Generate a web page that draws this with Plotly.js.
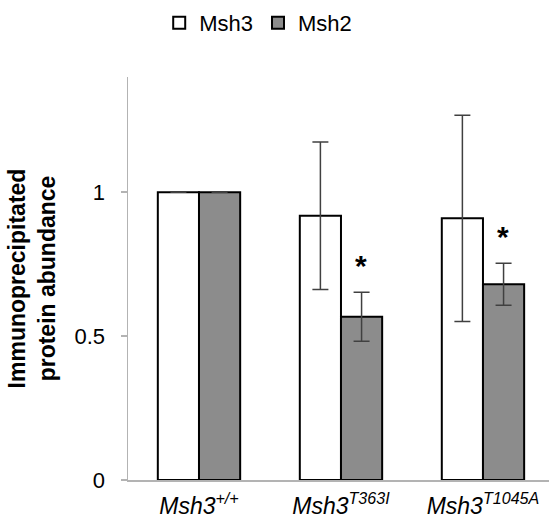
<!DOCTYPE html>
<html>
<head>
<meta charset="utf-8">
<script src="https://cdn.plot.ly/plotly-3.0.1.min.js"></script>
<style>html,body{margin:0;padding:0;background:#fff}#chart{width:549px;height:524px}</style>
</head>
<body>
<div id="chart"></div>
<script>
// ---- data ----
const genotypes = ['+/+', 'T363I', 'T1045A'];
const tickLabels = ['<i>Msh3<sup>+/+</sup></i>', '<i>Msh3<sup>T363I</sup></i>', '<i>Msh3<sup>T1045A</sup></i>'];
const msh3 = [1.0, 0.918, 0.909];
const msh3Err = [null, 0.256, 0.358];
const msh2 = [1.0, 0.567, 0.680];
const msh2Err = [null, 0.085, 0.073];
const significance = ['', '*', '*'];
const yTicks = [0, 0.5, 1];
const yTickText = ['0', '0.5', '1'];

const FONT = 'Liberation Sans, Arial, sans-serif';
const errStyle = {type: 'data', visible: true, color: '#404040', thickness: 1.5, width: 8};

const traces = [
  {
    type: 'bar', name: 'Msh3', x: genotypes, y: msh3,
    marker: {color: '#ffffff', line: {color: '#000000', width: 2}},
    error_y: Object.assign({array: msh3Err}, errStyle)
  },
  {
    type: 'bar', name: 'Msh2', x: genotypes, y: msh2,
    marker: {color: '#8c8c8c', line: {color: '#000000', width: 2}},
    error_y: Object.assign({array: msh2Err}, errStyle)
  }
];

const annotations = [];
significance.forEach((s, i) => {
  if (!s) return;
  annotations.push({
    x: i, y: msh2[i] + msh2Err[i], xref: 'x', yref: 'y',
    text: '<b>' + s + '</b>', showarrow: false,
    xanchor: 'center', yanchor: 'bottom', xshift: 20.5, yshift: 8,
    font: {family: FONT, size: 30, color: '#000'}
  });
});

const layout = {
  width: 549, height: 524,
  margin: {l: 128, r: 0, t: 77, b: 44},
  paper_bgcolor: '#ffffff', plot_bgcolor: '#ffffff',
  font: {family: FONT, color: '#000'},
  barmode: 'group', bargap: 0.42, bargroupgap: 0,
  showlegend: true,
  legend: {
    orientation: 'h', xref: 'container', yref: 'container',
    x: 0.29, xanchor: 'left', y: 0.956, yanchor: 'middle',
    font: {family: FONT, size: 22, color: '#000'},
    traceorder: 'normal', itemclick: false
  },
  xaxis: {
    type: 'category', range: [-0.5, 2.465],
    tickmode: 'array', tickvals: genotypes, ticktext: tickLabels,
    showline: true, linecolor: '#b3b3b3', linewidth: 1.5,
    ticks: '', showgrid: false, zeroline: false,
    ticklabelstandoff: 5,
    tickfont: {family: FONT, size: 23, color: '#000'}
  },
  yaxis: {
    range: [0, 1.4], tickmode: 'array', tickvals: yTicks, ticktext: yTickText,
    showline: true, linecolor: '#b3b3b3', linewidth: 1.5,
    ticks: 'outside', ticklen: 6, tickcolor: '#b3b3b3', tickwidth: 1.5,
    showgrid: false, zeroline: false,
    ticklabelstandoff: 11,
    tickfont: {family: FONT, size: 22, color: '#000'},
    title: {
      text: '<b>Immunoprecipitated<br>protein abundance</b>',
      font: {family: FONT, size: 23, color: '#000'},
      standoff: 12
    }
  },
  annotations: annotations
};

Plotly.newPlot('chart', traces, layout, {displayModeBar: false, staticPlot: true});
</script>
</body>
</html>
